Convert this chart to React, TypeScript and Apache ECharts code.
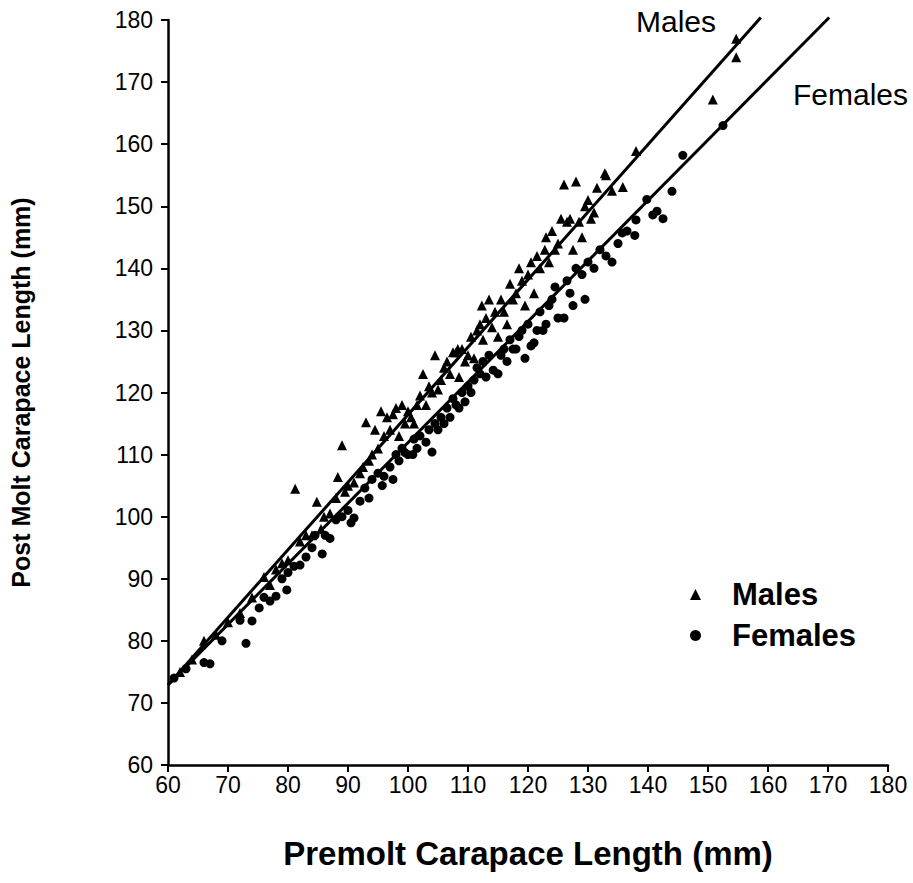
import React, { useEffect, useRef } from "react";
import * as echarts from "echarts";

const xTicks = [60, 180, 10];
const yTicks = [60, 180, 10];

const males: number[][] = [
  [62, 75], [64, 77], [66, 80], [68, 81], [70, 83], [72, 84.5], [74, 87], [76, 90.3], [77, 89], [78, 91.5],
  [79, 92.5], [80, 93], [81.2, 104.5], [82, 96], [83, 97], [84, 97], [84.8, 102.4], [85.5, 98], [86, 100], [87, 100.5],
  [88, 103], [88.3, 106.4], [89, 111.5], [89.5, 104], [90, 105], [91, 105.5], [92, 107], [92.5, 108], [93, 115.2], [93.5, 109],
  [94, 110], [94.5, 114], [95, 111], [95.5, 117], [96, 113], [96.5, 116], [97, 114], [97.5, 116.5], [98, 117.5], [98.5, 113],
  [99, 118], [99.5, 115], [100, 117], [100.5, 116], [101, 115], [101.5, 118], [102, 119.5], [102.5, 123], [103, 118], [103.5, 121],
  [104, 120], [104.5, 126], [105, 120.5], [105.5, 122], [106, 124], [106.5, 125], [107, 123], [107.5, 126.5], [108, 126.5], [108.3, 127],
  [108.5, 122.5], [109, 127], [109.5, 125], [110, 126], [110.5, 129], [111, 125.5], [111.5, 130], [112, 131], [112.3, 134], [112.5, 128.5],
  [113, 132], [113.5, 135], [114, 130.5], [114.5, 133], [115, 129], [115.5, 135], [116, 133], [116.5, 131], [117, 137.5], [117.5, 135],
  [118, 136], [118.5, 140], [119, 138], [119.5, 134], [120, 139], [120.5, 141], [121, 136], [121.5, 142], [122, 140], [122.8, 143],
  [123, 145], [123.5, 141], [124, 146], [124.5, 143], [125, 144], [125.5, 148], [126, 153.5], [126.5, 147.5], [127, 148], [127.5, 143],
  [128, 154], [128.5, 147.5], [129, 145], [129.5, 150], [130, 151], [130.5, 148], [131, 149], [131.5, 153], [132.8, 155.3], [133, 155],
  [134, 152.5], [135.8, 153.1], [138, 158.9], [150.8, 167.2], [154.7, 174], [154.7, 177]
];

const females: number[][] = [
  [61, 74], [63, 75.5], [66, 76.5], [67, 76.3], [69, 80], [72, 83.3], [73, 79.6], [74, 83.2], [75.2, 85.3], [76, 87],
  [77, 86.4], [78, 87.2], [79, 90], [79.8, 88.2], [80, 91], [81, 92], [82, 92.2], [83, 93.5], [84, 95], [84.5, 97],
  [85.7, 94], [86.2, 97], [87, 96.5], [88, 99.5], [89, 100], [90, 101], [90.5, 99], [91, 99.8], [92, 102.5], [92.8, 104.6],
  [93.5, 103], [94, 106], [95, 107], [95.7, 105], [96, 106.5], [97, 108], [97.5, 106], [98, 110], [98.5, 109], [99, 111],
  [99.5, 110.3], [100, 110], [100.8, 110], [101, 112.5], [101.5, 111], [102, 113], [103, 112], [103.5, 114], [104, 110.4], [104.5, 115],
  [105, 114], [105.5, 116], [106, 115], [106.5, 117.5], [107, 116], [107.5, 119], [108, 118], [108.5, 117.5], [109, 120], [109.5, 118.5],
  [110, 121], [110.5, 120], [111, 122], [111.5, 124], [112, 123], [112.5, 125], [113, 122.5], [113.5, 126], [114.2, 123.6], [115, 123],
  [115.5, 126], [116, 127], [116.5, 125], [117, 128.5], [117.5, 127], [118, 127], [118.5, 129], [119, 130], [119.5, 125.5], [120, 131],
  [120.5, 127.5], [121, 128], [121.5, 130], [122, 133], [122.5, 130], [123, 131], [123.5, 134], [124, 135], [124.5, 137], [125, 132],
  [126, 132], [126.5, 138], [127, 136], [127.5, 134], [128, 140], [129, 139], [129.5, 135], [130, 141], [131, 140], [132, 143],
  [133, 142], [134, 141], [135, 144], [135.7, 145.7], [136.5, 146], [137.8, 145.3], [138, 147.8], [139.8, 151.1], [140.8, 148.6], [141.5, 149.2],
  [142.5, 148], [144, 152.4], [145.8, 158.2], [152.5, 163]
];

const maleFit: number[][] = [[60, 72.9], [158.8, 180.4]];
const femaleFit: number[][] = [[60, 72.9], [170.2, 180.4]];

const seriesNames = ["Males", "Females"];
const xTitle = "Premolt Carapace Length (mm)";
const yTitle = "Post Molt Carapace Length (mm)";

const FONT = "'Liberation Sans', Arial, Helvetica, sans-serif";

export default function App() {
  const ref = useRef<HTMLDivElement>(null);
  useEffect(() => {
    if (!ref.current) return;
    const chart = echarts.init(ref.current, null, { renderer: "svg" });
    const axisCommon = {
      type: "value" as const,
      min: xTicks[0],
      max: xTicks[1],
      interval: xTicks[2],
      splitLine: { show: false },
      axisLine: { show: true, lineStyle: { color: "#000", width: 2.5 } },
      axisTick: { show: true, length: 7, lineStyle: { color: "#000", width: 2 } },
      nameLocation: "middle" as const,
      nameTextStyle: { color: "#000", fontFamily: FONT, fontWeight: "bold" as const },
    };
    chart.setOption({
      animation: false,
      backgroundColor: "#fff",
      grid: { left: 168, top: 20, right: 25, bottom: 118, containLabel: false },
      xAxis: {
        ...axisCommon,
        axisLabel: { color: "#000", fontSize: 23, fontFamily: FONT, margin: 8 },
        name: xTitle,
        nameGap: 72,
        nameTextStyle: { ...axisCommon.nameTextStyle, fontSize: 33 },
      },
      yAxis: {
        ...axisCommon,
        min: yTicks[0],
        max: yTicks[1],
        interval: yTicks[2],
        axisLabel: { color: "#000", fontSize: 23, fontFamily: FONT, margin: 15 },
        name: yTitle,
        nameGap: 135,
        nameTextStyle: { ...axisCommon.nameTextStyle, fontSize: 25 },
      },
      legend: {
        data: seriesNames,
        orient: "vertical",
        left: 685,
        top: 574,
        itemWidth: 11,
        itemHeight: 11,
        itemGap: 10,
        textStyle: { color: "#000", fontSize: 31, fontWeight: "bold", fontFamily: FONT, padding: [0, 0, 0, 26] },
      },
      graphic: [
        { type: "text", left: 636, top: 6, style: { text: "Males", fill: "#000", fontSize: 30, fontFamily: FONT } },
        { type: "text", left: 793, top: 79, style: { text: "Females", fill: "#000", fontSize: 30, fontFamily: FONT } },
      ],
      series: [
        {
          name: seriesNames[0],
          type: "scatter",
          data: males,
          symbol: "triangle",
          symbolSize: 10,
          itemStyle: { color: "#000", opacity: 1 },
        },
        {
          name: seriesNames[1],
          type: "scatter",
          data: females,
          symbol: "circle",
          symbolSize: 9,
          itemStyle: { color: "#000", opacity: 1 },
        },
        {
          name: "Males fit",
          type: "line",
          data: maleFit,
          symbol: "none",
          lineStyle: { color: "#000", width: 3 },
          clip: false,
        },
        {
          name: "Females fit",
          type: "line",
          data: femaleFit,
          symbol: "none",
          lineStyle: { color: "#000", width: 3 },
          clip: false,
        },
      ],
    });
    return () => chart.dispose();
  }, []);
  return (
    <div
      ref={ref}
      style={{ position: "fixed", left: 0, top: 0, width: 913, height: 883, background: "#fff" }}
    />
  );
}
